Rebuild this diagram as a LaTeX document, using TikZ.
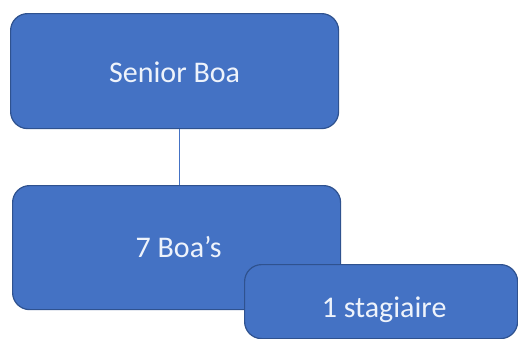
\documentclass[tikz,border=0pt]{standalone}
\usepackage{fontspec}
\setmainfont{Carlito}
\definecolor{boxfill}{HTML}{4472C4}
\definecolor{boxline}{HTML}{2F528F}
\definecolor{boxtext}{HTML}{EEF3FB}
\begin{document}
\begin{tikzpicture}[x=1pt,y=-1pt,
  orgbox/.style={draw=boxline, line width=1.2pt, fill=boxfill, rounded corners=17pt,
    text=boxtext, font=\fontsize{30}{34}\selectfont, inner sep=0pt, text depth=0pt, anchor=north west},
  link/.style={color=boxfill, line width=1pt}]
\useasboundingbox (0,0) rectangle (518,338);
\clip (0,0) rectangle (518,338);
\node[orgbox, minimum width=328pt, minimum height=115pt, text height=23pt] (senior) at (10,13) {Senior Boa};
\node[orgbox, minimum width=328pt, minimum height=124pt, text height=20pt] (boas) at (12,185) {\hspace*{4pt}7 Boa’s};
\node[orgbox, minimum width=273pt, minimum height=74pt, text height=31pt] (stag) at (244,264) {\hspace*{6pt}1 stagiaire};
\draw[link] (senior.south) ++(5,0) coordinate (a) -- (a |- boas.north);
\end{tikzpicture}
\end{document}
